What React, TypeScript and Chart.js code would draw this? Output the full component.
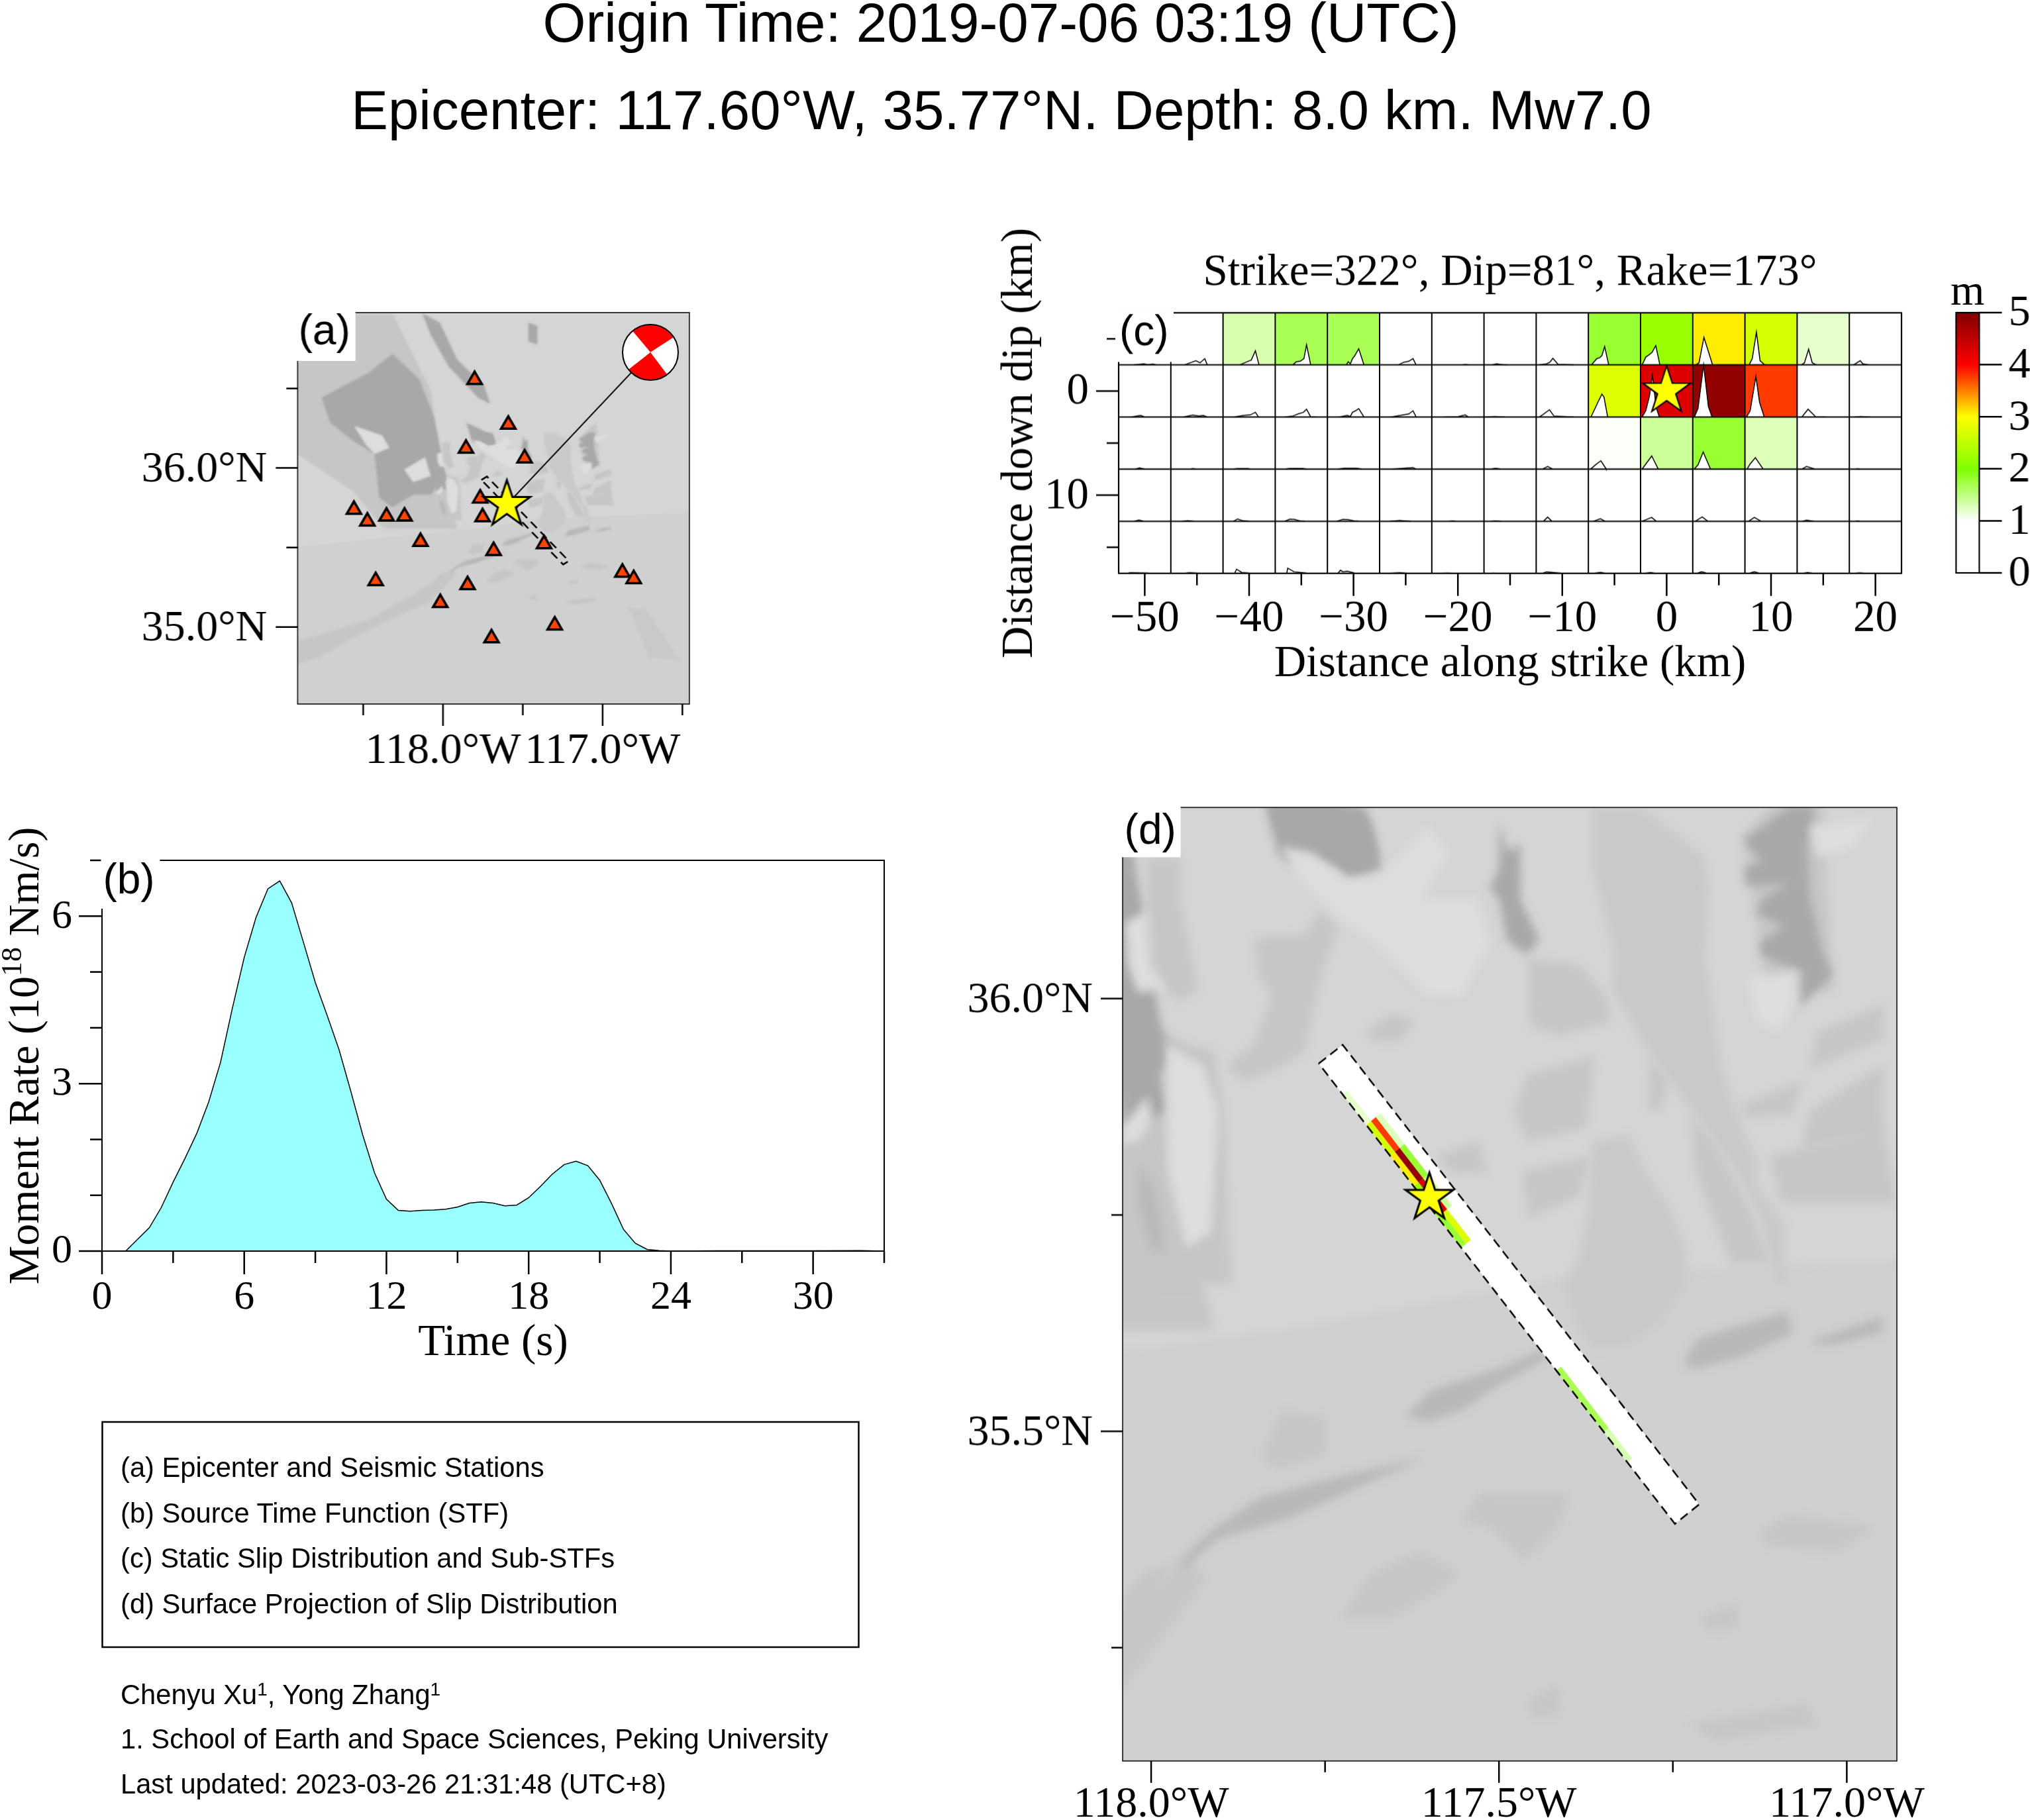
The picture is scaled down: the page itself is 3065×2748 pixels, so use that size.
import { useEffect, useRef } from "react";
import { Chart, registerables } from "chart.js";

Chart.register(...registerables);

const SERIF = '"Liberation Serif"';
const SANS = '"Liberation Sans"';

// ---------- data ----------
const titleLine1 = "Origin Time: 2019-07-06 03:19 (UTC)";
const titleLine2 = "Epicenter: 117.60°W, 35.77°N. Depth: 8.0 km. Mw7.0";
const faultTitle = "Strike=322°, Dip=81°, Rake=173°";
const legendLines = [
  "(a) Epicenter and Seismic Stations",
  "(b) Source Time Function (STF)",
  "(c) Static Slip Distribution and Sub-STFs",
  "(d) Surface Projection of Slip Distribution",
];

const epicenter: [number, number] = [-117.6, 35.77];
const beachballAt: [number, number] = [-116.7, 36.7275];
const beachballSlices = [97, 86, 89, 88];

const stations: [number, number][] = [
  [-117.802, 36.554], [-117.591, 36.273], [-117.856, 36.122], [-117.489, 36.061],
  [-117.767, 35.809], [-117.752, 35.691], [-118.558, 35.738], [-118.474, 35.664],
  [-118.354, 35.695], [-118.241, 35.695], [-118.141, 35.536], [-117.683, 35.479],
  [-117.367, 35.522], [-116.876, 35.343], [-116.805, 35.302], [-118.422, 35.29],
  [-117.846, 35.264], [-118.017, 35.152], [-117.3, 35.011], [-117.696, 34.93],
];

const faultNwShallow: [number, number] = [-117.7591, 35.925];
const faultNwDeep: [number, number] = [-117.7247, 35.9466];
const faultSeDeep: [number, number] = [-117.2122, 35.4156];
const faultSeShallow: [number, number] = [-117.247, 35.393];

const stfTime = [1, 1.5, 2, 2.5, 3, 3.5, 4, 4.5, 5, 5.5, 6, 6.5, 7, 7.5, 8, 8.5, 9, 9.5, 10, 10.5, 11, 11.5, 12, 12.5, 13, 13.5, 14, 14.5, 15, 15.5, 16, 16.5, 17, 17.5, 18, 18.5, 19, 19.5, 20, 20.5, 21, 21.5, 22, 22.5, 23, 23.5, 24, 26, 28, 30, 32, 33];
const stfRate = [0, 0.21, 0.42, 0.78, 1.235, 1.66, 2.11, 2.67, 3.38, 4.35, 5.26, 5.98, 6.49, 6.63, 6.24, 5.53, 4.81, 4.22, 3.61, 2.86, 2.08, 1.4, 0.93, 0.73, 0.715, 0.73, 0.735, 0.75, 0.79, 0.86, 0.88, 0.86, 0.81, 0.825, 0.955, 1.16, 1.38, 1.55, 1.61, 1.53, 1.27, 0.85, 0.39, 0.14, 0.03, 0.01, 0, 0.005, 0.005, 0.005, 0.01, 0];

const alongStrike = [-50, -45, -40, -35, -30, -25, -20, -15, -10, -5, 0, 5, 10, 15, 20];
const downDip = [-5, 0, 5, 10, 15];
const slipRow0 = [0.1, 0.5, 1.31, 1.67, 1.67, 0.6, 0, 0.1, 0.5, 1.8, 2.2, 3.07, 2.66, 1.2, 0.3];
const slipRow1 = [0.1, 0.2, 0.5, 0.7, 0.8, 0.6, 0.2, 0.05, 0.7, 2.73, 4.27, 4.85, 3.77, 0.7, 0.05];
const slipRow2 = [0.1, 0.05, 0.1, 0.1, 0.1, 0.2, 0, 0.1, 0.2, 1.03, 1.4, 1.8, 1.27, 0.2, 0.05];
const slipRow3 = [0.1, 0.05, 0.2, 0.2, 0.2, 0.1, 0.03, 0.03, 0.3, 0.2, 0.3, 0.4, 0.3, 0.1, 0.05];
const slipRow4 = [0.05, 0.05, 0.4, 0.4, 0.3, 0.05, 0.03, 0.03, 0.1, 0.1, 0.1, 0.1, 0.1, 0.05, 0.05];
const slipRows = [slipRow0, slipRow1, slipRow2, slipRow3, slipRow4];

const colorStops: [number, number, number, number][] = [
  [0, 255, 255, 255], [1, 255, 255, 255], [2, 128, 255, 0],
  [3, 255, 255, 0], [4, 255, 0, 0], [5, 128, 0, 0],
];

type W = [number, number][];
const stfRow0: W[] = [
  [[1.5, 0], [2.4, 0.1], [2.8, 0.03], [3.3, 0.08], [3.6, 0]],
  [[1.3, 0], [2.4, 0.4], [2.8, 0.2], [3.25, 0.6], [3.5, 0]],
  [[1.6, 0], [2.3, 0.3], [2.7, 0.45], [3.1, 1.35], [3.45, 0]],
  [[1.7, 0], [2, 0.3], [2.4, 0.35], [2.75, 0.6], [3, 1.93], [3.4, 0]],
  [[1.8, 0], [2, 0.3], [2.2, 0.1], [2.4, 0.6], [2.6, 0.85], [3, 1.55], [3.5, 0]],
  [[1.8, 0], [2.3, 0.25], [2.8, 0.35], [3.2, 0.6], [3.5, 0]],
  [[3, 0], [3.2, 0.03], [3.5, 0]],
  [[0.8, 0], [1.2, 0.1], [1.8, 0.03], [2.2, 0]],
  [[0.3, 0], [1, 0.1], [1.3, 0.25], [1.6, 0.63], [2.1, 0.05], [3.6, 0]],
  [[0.3, 0], [0.8, 0.6], [1.1, 0.7], [1.3, 0.9], [1.56, 1.76], [1.95, 0]],
  [[0.15, 0], [0.5, 0.75], [0.85, 1], [1.1, 1.2], [1.46, 1.84], [1.85, 0]],
  [[0.3, 0], [0.6, 0.2], [1.07, 2.64], [1.9, 0]],
  [[0.4, 0], [0.7, 0.6], [1.1, 3.15], [1.45, 0.4], [1.9, 0]],
  [[0.4, 0], [0.7, 0.2], [1.1, 1.5], [1.45, 0.2], [1.85, 0]],
  [[0.4, 0], [1.04, 0.4], [1.3, 0.1], [1.85, 0]],
];
const stfRow1: W[] = [
  [[1.2, 0], [2.1, 0.15], [2.5, 0]],
  [[1.2, 0], [2.1, 0.18], [2.7, 0.1], [3.1, 0.15], [3.5, 0]],
  [[1.05, 0], [2, 0.15], [2.6, 0.2], [3.1, 0.45], [3.4, 0]],
  [[0.9, 0], [1.7, 0.1], [2.2, 0.3], [2.7, 0.45], [3, 0.75], [3.4, 0], [3.9, 0]],
  [[1.1, 0], [1.9, 0.15], [2.2, 0.05], [2.4, 0.45], [2.7, 0.6], [3, 0.8], [3.5, 0]],
  [[1.05, 0], [2, 0.15], [2.8, 0.3], [3.2, 0.6], [3.5, 0]],
  [[1.2, 0], [2.5, 0.03], [3.2, 0.2], [3.5, 0]],
  [[0.1, 0], [1, 0.05], [2, 0]],
  [[0.3, 0], [0.6, 0.2], [1.27, 0.7], [1.7, 0.1], [3.6, 0]],
  [[0.25, 0], [1, 1.6], [1.3, 2.2], [1.5, 1.9], [1.85, 0]],
  [[0.15, 0], [0.5, 0.6], [0.85, 2], [1.14, 4], [1.5, 0.9], [1.8, 0]],
  [[0.15, 0], [0.5, 0.8], [1.04, 5], [1.5, 1], [1.85, 0]],
  [[0.15, 0], [0.5, 0.6], [1.05, 3.9], [1.4, 1.4], [1.85, 0]],
  [[0.45, 0], [1.05, 0.75], [1.8, 0], [2.8, 0]],
  [[0.5, 0], [1.1, 0.05], [2, 0]],
];
const stfRow2: W[] = [
  [[1.6, 0], [2, 0.12], [2.5, 0]],
  [[1.9, 0], [2.1, 0.05], [2.4, 0]],
  [[1, 0], [1.4, 0.05], [2.4, 0.05], [2.6, 0]],
  [[1, 0], [1.4, 0.07], [2.6, 0.07], [3, 0]],
  [[1, 0], [1.6, 0.08], [2.8, 0.08], [3.3, 0]],
  [[1.2, 0], [1.9, 0.05], [3.2, 0.15], [3.5, 0]],
  [],
  [[0.7, 0], [1.1, 0.08], [1.6, 0]],
  [[0.6, 0], [1.1, 0.25], [1.6, 0]],
  [[0.2, 0], [0.8, 0.5], [1.2, 0.8], [1.65, 0.1], [1.7, 0]],
  [[0.15, 0], [1.07, 1.26], [1.7, 0]],
  [[0.15, 0], [0.5, 0.4], [1, 1.64], [1.7, 0]],
  [[0.2, 0], [0.5, 0.5], [1, 1.1], [1.75, 0]],
  [[0.45, 0], [0.9, 0.25], [1.7, 0]],
  [[0.6, 0], [0.8, 0.04], [1, 0]],
];
const stfRow3: W[] = [
  [[1.5, 0], [1.95, 0.12], [2.4, 0]],
  [[1.1, 0], [1.6, 0.06], [2.2, 0]],
  [[1, 0], [1.4, 0.22], [1.9, 0.05], [2.5, 0]],
  [[0.9, 0], [1.4, 0.2], [1.8, 0.18], [2.4, 0.03], [2.8, 0]],
  [[0.9, 0], [1.5, 0.18], [2, 0.15], [2.6, 0.03], [3, 0]],
  [[1, 0], [1.9, 0.08], [3, 0]],
  [[1.7, 0], [2, 0.03], [2.3, 0]],
  [[0.7, 0], [1.1, 0.03], [1.6, 0]],
  [[0.7, 0], [1.1, 0.4], [1.5, 0]],
  [[0.5, 0], [1.15, 0.25], [1.6, 0]],
  [[0.15, 0], [1.07, 0.37], [1.5, 0]],
  [[0.25, 0], [0.9, 0.42], [1.45, 0]],
  [[0.35, 0], [0.9, 0.37], [1.55, 0]],
  [[0.5, 0], [0.9, 0.1], [1.6, 0]],
  [[0.6, 0], [0.8, 0.03], [1, 0]],
];
const stfRow4: W[] = [
  [[0.8, 0], [1.1, 0.06], [2.8, 0.03], [3, 0]],
  [[1.2, 0], [1.8, 0.06], [3, 0]],
  [[1.1, 0], [1.3, 0.4], [1.8, 0.08], [2.5, 0.03], [4.5, 0]],
  [[1.1, 0], [1.2, 0.5], [1.8, 0.15], [3, 0.03], [3.5, 0]],
  [[1, 0], [1.25, 0.3], [1.5, 0.15], [1.9, 0.2], [2.6, 0.03], [3, 0]],
  [[0.7, 0], [1.9, 0.06], [3, 0]],
  [[0.3, 0], [1.5, 0.03], [2.4, 0]],
  [[0.7, 0], [0.9, 0.03], [1.4, 0]],
  [[0.6, 0], [1, 0.15], [2.6, 0]],
  [[0.5, 0], [1.15, 0.1], [1.7, 0]],
  [[0.3, 0], [0.95, 0.08], [1.5, 0]],
  [[0.4, 0], [0.85, 0.15], [1.4, 0]],
  [[0.4, 0], [0.9, 0.15], [1.4, 0]],
  [[0.5, 0], [1, 0.08], [1.6, 0]],
  [[0.4, 0], [1, 0.05], [1.7, 0]],
];
const stfRows = [stfRow0, stfRow1, stfRow2, stfRow3, stfRow4];

// terrain outlines (lon, lat), read approximately from the shaded relief
const terrainUpland: W[] = [
  [[-118.95, 37], [-116.4, 37], [-116.4, 35.72], [-117.4, 35.68], [-117.8, 35.62], [-118.95, 35.5]],
];
const terrainBasin: W[] = [
  [[-117.366, 36.222], [-117.297, 36.222], [-117.206, 36.165], [-117.199, 36.134], [-117.203, 36.046], [-117.181, 35.923], [-117.152, 35.852], [-117.13, 35.817], [-117.13, 35.786], [-117.09, 35.74], [-117.09, 35.694], [-117.086, 35.671], [-117.1, 35.671], [-117.126, 35.751], [-117.159, 35.8], [-117.192, 35.838], [-117.239, 35.888], [-117.29, 35.944], [-117.337, 36.011], [-117.334, 36.053], [-117.352, 36.109], [-117.366, 36.151]],
  [[-117.366, 35.835], [-117.312, 35.842], [-117.29, 35.8], [-117.257, 35.761], [-117.232, 35.712], [-117.232, 35.67], [-117.264, 35.628], [-117.314, 35.598], [-117.364, 35.596], [-117.385, 35.618], [-117.407, 35.67], [-117.385, 35.7], [-117.37, 35.764]],
  [[-116.835, 35.125], [-116.724, 35.105], [-116.52, 34.791], [-116.705, 34.81]],
];
const terrainMid: W[] = [
  [[-118.911, 36.659], [-118.558, 36.973], [-118.317, 36.973], [-118.076, 36.482], [-118.002, 35.931], [-117.909, 35.617], [-118.372, 35.617], [-118.558, 35.852], [-118.911, 36.088]],
  [[-117.852, 36.07], [-117.779, 36.074], [-117.757, 36.102], [-117.732, 36.081], [-117.757, 36.025], [-117.779, 35.94], [-117.819, 35.919], [-117.867, 35.905], [-117.892, 35.923], [-117.852, 35.947], [-117.826, 36.004], [-117.845, 36.025]],
  [[-118.005, 36.162], [-117.958, 36.162], [-117.958, 36.109], [-117.932, 36.011], [-117.961, 35.997], [-117.994, 36.025], [-118.005, 36.081]],
  [[-117.994, 35.969], [-117.95, 35.947], [-117.91, 35.94], [-117.896, 35.87], [-117.885, 35.671], [-117.998, 35.671], [-117.979, 35.87]],
  [[-117.692, 35.961], [-117.655, 35.982], [-117.622, 35.975], [-117.641, 35.951], [-117.677, 35.951]],
  [[-117.59, 35.817], [-117.531, 35.835], [-117.517, 35.8], [-117.568, 35.8]],
  [[-117.458, 36.046], [-117.385, 36.039], [-117.348, 36.004], [-117.337, 35.975], [-117.41, 35.958], [-117.454, 35.968]],
  [[-117.458, 35.912], [-117.363, 35.933], [-117.374, 35.852], [-117.458, 35.835], [-117.479, 35.87]],
  [[-117.465, 35.8], [-117.37, 35.817], [-117.385, 35.772], [-117.458, 35.747]],
  [[-117.283, 35.93], [-117.257, 35.905], [-117.268, 35.87], [-117.286, 35.874]],
  [[-117.224, 35.863], [-117.192, 35.835], [-117.144, 35.764], [-117.111, 35.694], [-117.166, 35.694], [-117.217, 35.8]],
  [[-117.152, 35.877], [-117.064, 35.905], [-117.079, 35.867], [-117.144, 35.863]],
  [[-117.053, 35.87], [-116.948, 35.923], [-116.948, 35.842], [-117.064, 35.828]],
  [[-117.042, 35.961], [-116.948, 35.993], [-116.948, 35.954], [-117.053, 35.919]],
  [[-117.111, 35.817], [-116.948, 35.852], [-116.93, 35.764], [-117.093, 35.764]],
  [[-117.842, 35.473], [-117.813, 35.523], [-117.749, 35.516], [-117.749, 35.473], [-117.82, 35.456]],
  [[-117.556, 35.396], [-117.528, 35.428], [-117.399, 35.428], [-117.414, 35.389], [-117.464, 35.35], [-117.514, 35.389]],
  [[-117.727, 35.284], [-117.685, 35.336], [-117.613, 35.361], [-117.556, 35.336], [-117.578, 35.319], [-117.656, 35.284]],
  [[-117.214, 35.284], [-117.157, 35.301], [-117.157, 35.273], [-117.2, 35.27]],
  [[-117.128, 35.382], [-117.086, 35.403], [-116.957, 35.389], [-117.014, 35.361], [-117.114, 35.368]],
  [[-117.456, 35.192], [-117.414, 35.206], [-117.414, 35.171], [-117.456, 35.171]],
  [[-117.228, 35.161], [-117.057, 35.185], [-117.043, 35.161], [-117.186, 35.143]],
  [[-118.041, 35.308], [-118.013, 35.336], [-117.97, 35.347], [-118.027, 35.273], [-118.041, 35.27]],
  [[-118.911, 34.909], [-118.465, 35.046], [-118.187, 35.204], [-117.95, 35.35], [-117.92, 35.33], [-118.076, 35.164], [-118.465, 34.987], [-118.78, 34.81], [-118.911, 34.771]],
  [[-117.15, 36.187], [-117.039, 36.285], [-117.02, 36.01], [-117.113, 36.01]],
];
const terrainRidge: W[] = [
  [[-117.963, 35.347], [-117.913, 35.386], [-117.842, 35.424], [-117.742, 35.445], [-117.606, 35.47], [-117.685, 35.442], [-117.799, 35.4], [-117.906, 35.375], [-117.949, 35.343]],
  [[-117.635, 35.516], [-117.599, 35.547], [-117.492, 35.575], [-117.435, 35.596], [-117.428, 35.586], [-117.513, 35.547], [-117.549, 35.526], [-117.599, 35.512]],
  [[-117.235, 35.579], [-117.214, 35.607], [-117.086, 35.639], [-117.078, 35.614], [-117.15, 35.586], [-117.221, 35.572]],
  [[-117.057, 35.603], [-116.95, 35.632], [-116.95, 35.614], [-117.021, 35.6]],
  [[-118.016, 35.81], [-117.994, 35.775], [-117.983, 35.73], [-117.983, 35.705], [-118.001, 35.715], [-118.016, 35.758]],
];
const terrainDark: W[] = [
  [[-118.761, 36.442], [-118.613, 36.521], [-118.465, 36.6], [-118.317, 36.718], [-118.15, 36.56], [-118.057, 36.324], [-117.983, 35.95], [-118.076, 35.833], [-118.187, 35.833], [-118.317, 35.754], [-118.4, 35.813], [-118.428, 36.088], [-118.558, 36.167], [-118.706, 36.285]],
  [[-118.131, 36.973], [-118.02, 36.914], [-117.909, 36.678], [-117.743, 36.521], [-117.705, 36.403], [-117.78, 36.442], [-117.965, 36.639], [-118.076, 36.836]],
  [[-117.854, 36.285], [-117.687, 36.206], [-117.668, 36.147], [-117.817, 36.167]],
  [[-117.826, 36.222], [-117.692, 36.222], [-117.674, 36.169], [-117.688, 36.144], [-117.717, 36.139], [-117.739, 36.155], [-117.775, 36.171], [-117.801, 36.155], [-117.812, 36.169], [-117.805, 36.183], [-117.823, 36.2]],
  [[-117.5, 36.204], [-117.488, 36.169], [-117.47, 36.179], [-117.469, 36.114], [-117.442, 36.068], [-117.46, 36.051], [-117.488, 36.067], [-117.5, 36.116], [-117.513, 36.127], [-117.5, 36.151]],
  [[-117.148, 36.183], [-117.082, 36.222], [-117.046, 36.222], [-117.057, 36.176], [-117.053, 36.116], [-117.035, 36.053], [-117.02, 36.028], [-117.068, 35.99], [-117.064, 36.032], [-117.122, 36.049], [-117.126, 36.063], [-117.09, 36.084], [-117.13, 36.099], [-117.119, 36.116], [-117.082, 36.134], [-117.144, 36.13], [-117.148, 36.151], [-117.122, 36.158]],
  [[-118.041, 36.123], [-118.023, 36.113], [-118.016, 36.035], [-117.998, 35.975], [-117.969, 35.93], [-117.987, 35.912], [-117.976, 35.87], [-118.005, 35.859], [-118.041, 35.852]],
  [[-117.465, 36.914], [-117.409, 36.894], [-117.409, 36.776], [-117.465, 36.796]],
];
const terrainLight: W[] = [
  [[-117.816, 36.176], [-117.768, 36.169], [-117.721, 36.137], [-117.674, 36.141], [-117.604, 36.2], [-117.571, 36.169], [-117.612, 36.116], [-117.531, 36.116], [-117.513, 36.063], [-117.553, 36.004], [-117.604, 36.004], [-117.677, 36.063], [-117.721, 36.088], [-117.779, 36.13]],
  [[-118.041, 35.852], [-118.005, 35.888], [-117.998, 35.859], [-118.019, 35.835], [-118.041, 35.831]],
  [[-118.038, 36.088], [-118.005, 36.102], [-117.998, 36.039], [-117.979, 36.011], [-118.019, 36.007], [-118.034, 36.039]],
  [[-117.979, 35.947], [-117.925, 35.923], [-117.903, 35.87], [-117.914, 35.729], [-117.95, 35.712], [-117.976, 35.8]],
  [[-117.144, 36.025], [-117.071, 36.032], [-117.075, 35.997], [-117.097, 35.961], [-117.13, 35.975], [-117.137, 36.004]],
  [[-117.053, 36.2], [-116.962, 36.208], [-116.991, 36.176], [-117.042, 36.162]],
  [[-118.558, 36.265], [-118.382, 36.206], [-118.335, 36.128], [-118.428, 36.088], [-118.484, 36.147]],
  [[-118.243, 35.99], [-118.113, 36.069], [-118.076, 35.95], [-118.187, 35.911]],
];

const aLatMajor = [36, 35];
const aLatMinor = [36.5, 35.5];
const aLonMajor = [-118, -117];
const aLonMinor = [-118.5, -117.5, -116.5];
const bTimeMajor = [0, 6, 12, 18, 24, 30];
const bTimeMinor = [3, 9, 15, 21, 27, 33];
const bRateMajor = [0, 3, 6];
const bRateMinor = [1, 2, 4, 5, 7];
const cStrikeMajor = [-50, -40, -30, -20, -10, 0, 10, 20];
const cStrikeMinor = [-45, -35, -25, -15, -5, 5, 15];
const cDipMajor = [0, 10];
const cDipMinor = [-5, 5, 15];
const cEdgesX = [-47.5, -42.5, -37.5, -32.5, -27.5, -22.5, -17.5, -12.5, -7.5, -2.5, 2.5, 7.5, 12.5, 17.5];
const cEdgesY = [-2.5, 2.5, 7.5, 12.5];
const barTicks = [0, 1, 2, 3, 4, 5];
const dLatMajor = [36, 35.5];
const dLatMinor = [35.75, 35.25];
const dLonMajor = [-118, -117.5, -117];
const dLonMinor = [-117.75, -117.25];

// ---------- helpers ----------
function slipColor(v: number) {
  for (let i = 1; i < colorStops.length; i++) {
    if (v <= colorStops[i][0]) {
      const a = colorStops[i - 1], b = colorStops[i];
      const t = (v - a[0]) / (b[0] - a[0]);
      return `rgb(${[1, 2, 3].map((k) => Math.round(a[k] + (b[k] - a[k]) * t)).join(",")})`;
    }
  }
  return "rgb(128,0,0)";
}

function starImage(r: number, lw: number) {
  const c = document.createElement("canvas");
  const s = Math.ceil(r * 2 + lw * 6);
  c.width = s; c.height = s;
  const g = c.getContext("2d")!;
  g.translate(s / 2, s / 2);
  g.beginPath();
  for (let i = 0; i < 10; i++) {
    const rad = i % 2 ? r * 0.382 : r;
    const a = (i * Math.PI) / 5 - Math.PI / 2;
    g.lineTo(Math.cos(a) * rad, Math.sin(a) * rad);
  }
  g.closePath();
  g.fillStyle = "#ffff00";
  g.fill();
  g.lineWidth = lw;
  g.strokeStyle = "#000";
  g.lineJoin = "miter";
  g.stroke();
  return c;
}

const poly = (pts: W, color: string, extra: any = {}) => ({
  type: "line",
  data: pts.map(([x, y]) => ({ x, y })),
  fill: "shape",
  backgroundColor: color,
  borderColor: "rgba(0,0,0,0)",
  borderWidth: 0,
  pointRadius: 0,
  tension: 0,
  ...extra,
});

const stacked = (ds: any[]) => ds.map((d, i) => ({ ...d, order: ds.length - i }));

const starSet = (at: [number, number], r: number, lw: number) => ({
  type: "line",
  data: [{ x: at[0], y: at[1] }],
  showLine: false,
  pointStyle: starImage(r, lw),
  pointRadius: r,
  clip: false,
});

function terrainSets() {
  const sets = [
    ...terrainUpland.map((p) => poly(p, "#d5d5d5")),
    ...terrainBasin.map((p) => poly(p, "#c9c9c9")),
    ...terrainMid.map((p) => poly(p, "#c6c6c6")),
    ...terrainRidge.map((p) => poly(p, "#b8b8b8")),
    ...terrainDark.map((p) => poly(p, "#a8a8a8")),
    ...terrainLight.map((p) => poly(p, "#dddddd")),
  ];
  (sets[sets.length - 1] as any).terrainLast = true;
  return sets;
}

type Frame = {
  area?: string; blur?: number;
  xMajor?: number[]; xMinor?: number[]; yMajor?: number[]; yMinor?: number[];
  major: number; minor: number; frameWidth: number; tickWidth: number;
  side?: "left" | "right";
  gridX?: number[]; gridY?: number[]; gridWidth?: number;
  tag?: { text: string; x: number; y: number; box: [number, number, number, number]; size: number };
};

function framePlugin(f: Frame) {
  return {
    id: "panelFrame",
    beforeDatasetsDraw(chart: any) {
      if (!f.area) return;
      const a = chart.chartArea;
      chart.ctx.save();
      chart.ctx.fillStyle = f.area;
      chart.ctx.fillRect(a.left, a.top, a.right - a.left, a.bottom - a.top);
      chart.ctx.restore();
      if (f.blur) chart.ctx.filter = `blur(${f.blur}px)`;
    },
    afterDatasetDraw(chart: any, args: any) {
      if (chart.data.datasets[args.index].terrainLast) chart.ctx.filter = "none";
    },
    afterDatasetsDraw(chart: any) {
      const { ctx, chartArea: a, scales } = chart;
      const x = scales.x, y = scales.y;
      ctx.save();
      ctx.strokeStyle = "#000";
      const seg = (x0: number, y0: number, x1: number, y1: number, w: number) => {
        ctx.lineWidth = w;
        ctx.beginPath(); ctx.moveTo(x0, y0); ctx.lineTo(x1, y1); ctx.stroke();
      };
      (f.gridX || []).forEach((v) => { const p = x.getPixelForValue(v); seg(p, a.top, p, a.bottom, f.gridWidth || 2); });
      (f.gridY || []).forEach((v) => { const p = y.getPixelForValue(v); seg(a.left, p, a.right, p, f.gridWidth || 2); });
      ctx.lineWidth = f.frameWidth;
      ctx.strokeRect(a.left, a.top, a.right - a.left, a.bottom - a.top);
      const drawY = (v: number, len: number) => {
        const p = y.getPixelForValue(v);
        if (f.side === "right") seg(a.right, p, a.right + len, p, f.tickWidth);
        else seg(a.left - len, p, a.left, p, f.tickWidth);
      };
      const drawX = (v: number, len: number) => {
        const p = x.getPixelForValue(v);
        seg(p, a.bottom, p, a.bottom + len, f.tickWidth);
      };
      (f.xMajor || []).forEach((v) => drawX(v, f.major));
      (f.xMinor || []).forEach((v) => drawX(v, f.minor));
      (f.yMajor || []).forEach((v) => drawY(v, f.major));
      (f.yMinor || []).forEach((v) => drawY(v, f.minor));
      if (f.tag) {
        const [bx, by, bw, bh] = f.tag.box;
        const cv = chart.canvas as HTMLCanvasElement;
        const ox = parseFloat(cv.style.left), oy = parseFloat(cv.style.top);
        ctx.fillStyle = "#fff";
        ctx.fillRect(bx - ox, by - oy, bw, bh);
        ctx.fillStyle = "#000";
        ctx.font = `${f.tag.size}px ${SANS}`;
        ctx.textAlign = "left";
        ctx.textBaseline = "alphabetic";
        ctx.fillText(f.tag.text, f.tag.x - ox, f.tag.y - oy);
      }
      ctx.restore();
    },
  };
}

function axis(o: {
  min: number; max: number; ticks: number[]; label: (v: number) => string;
  font: number; pad: number; fixed: number; horizontal: boolean; title?: string; reverse?: boolean; position?: string; nudge?: number;
}) {
  return {
    type: "linear",
    position: o.position || (o.horizontal ? "bottom" : "left"),
    min: o.min, max: o.max, reverse: !!o.reverse, offset: false,
    grid: { display: false, drawTicks: false, offset: false },
    border: { display: false },
    afterBuildTicks: (s: any) => { s.ticks = o.ticks.map((value) => ({ value })); },
    afterFit: (s: any) => { if (o.horizontal) s.height = o.fixed; else s.width = o.fixed; },
    ticks: {
      autoSkip: false, maxRotation: 0, minRotation: 0, color: "#000", padding: o.pad, labelOffset: o.nudge || 0,
      font: { family: SERIF, size: o.font, lineHeight: 1 },
      callback: (v: number) => o.label(v),
    },
    title: o.title
      ? { display: true, text: o.title, color: "#000", padding: 0, font: { family: SERIF, size: 67, lineHeight: 1 } }
      : { display: false },
  };
}

const PAD = 150;
const padAll = { left: PAD, right: PAD, top: PAD, bottom: PAD };
const geom = (L: number, T: number, R: number, B: number, wLeft: number, hBottom: number, topExtra = 0) => ({
  left: L - wLeft - PAD,
  top: T - PAD - topExtra,
  width: R - L + wLeft + 2 * PAD,
  height: B - T + hBottom + 2 * PAD + topExtra,
  padding: padAll,
});

const lonLabel = (majors: number[]) => (v: number) => majors.includes(v) ? `${Math.abs(v).toFixed(1)}°W` : "";
const latLabel = (majors: number[]) => (v: number) => majors.includes(v) ? `${v.toFixed(1)}°N` : "";
const baseOptions = (padding: any, scales: any, title?: any) => ({
  responsive: false,
  animation: false,
  devicePixelRatio: 1,
  layout: { padding },
  plugins: { legend: { display: false }, tooltip: { enabled: false }, title: title || { display: false } },
  scales,
});

// ---------- charts ----------
function makeA(cv: HTMLCanvasElement, g: any) {
  const rect = [faultNwShallow, faultNwDeep, faultSeDeep, faultSeShallow, faultNwShallow];
  return new Chart(cv, {
    type: "line",
    data: {
      datasets: stacked([
        ...terrainSets(),
        { type: "line", data: rect.map(([x, y]) => ({ x, y })), borderColor: "#000", borderWidth: 2.5, borderDash: [13, 8], pointRadius: 0, fill: false },
        { type: "line", data: stations.map(([x, y]) => ({ x, y })), showLine: false, pointStyle: "triangle", pointRadius: 12.5, pointBackgroundColor: "#ff4500", pointBorderColor: "#000", pointBorderWidth: 3.5 },
        { type: "line", data: [epicenter, beachballAt].map(([x, y]) => ({ x, y })), borderColor: "#000", borderWidth: 2, pointRadius: 0, fill: false },
        starSet(epicenter, 37, 3),
      ]) as any,
    },
    options: baseOptions(g.padding, {
      x: axis({ min: -118.911, max: -116.456, ticks: [...aLonMajor, ...aLonMinor].sort((p, q) => p - q), label: lonLabel(aLonMajor), font: 66, pad: 39, fixed: 130, horizontal: true }),
      y: axis({ min: 34.516, max: 36.977, ticks: [...aLatMajor, ...aLatMinor].sort((p, q) => p - q), label: latLabel(aLatMajor), font: 66, pad: 46, fixed: 250, horizontal: false, nudge: 3 }),
    }) as any,
    plugins: [framePlugin({
      area: "#d0d0d0", blur: 1.5, xMajor: aLonMajor, xMinor: aLonMinor, yMajor: aLatMajor, yMinor: aLatMinor,
      major: 33, minor: 17, frameWidth: 1.5, tickWidth: 2.5,
      tag: { text: "(a)", x: 450, y: 520, box: [447, 460, 89, 85], size: 64 },
    })] as any,
  });
}

function makeBall(cv: HTMLCanvasElement) {
  return new Chart(cv, {
    type: "doughnut",
    data: { labels: ["P", "T", "P ", "T "], datasets: [{ data: beachballSlices, backgroundColor: ["#ff0000", "#ffffff", "#ff0000", "#ffffff"], borderWidth: 0 }] },
    options: {
      responsive: false, animation: false, devicePixelRatio: 1, cutout: 0, rotation: 320, radius: 42,
      plugins: { legend: { display: false }, tooltip: { enabled: false } },
    } as any,
    plugins: [{
      id: "ballRim",
      afterDatasetsDraw(chart: any) {
        const { ctx, width, height } = chart;
        ctx.save();
        ctx.strokeStyle = "#000"; ctx.lineWidth = 2;
        ctx.beginPath(); ctx.arc(width / 2, height / 2, 42, 0, Math.PI * 2); ctx.stroke();
        ctx.restore();
      },
    }] as any,
  });
}

function makeB(cv: HTMLCanvasElement, g: any) {
  return new Chart(cv, {
    type: "line",
    data: {
      datasets: [{
        data: stfTime.map((x, i) => ({ x, y: stfRate[i] })),
        borderColor: "#000", borderWidth: 1.5, pointRadius: 0, fill: "origin", backgroundColor: "#99ffff", tension: 0,
      }],
    },
    options: baseOptions(g.padding, {
      x: axis({ min: 0, max: 33, ticks: [...bTimeMajor, ...bTimeMinor].sort((p, q) => p - q), label: (v) => (bTimeMajor.includes(v) ? String(v) : ""), font: 62, pad: 40, fixed: 173, horizontal: true, title: "Time (s)" }),
      y: axis({ min: 0, max: 7, ticks: [...bRateMajor, ...bRateMinor].sort((p, q) => p - q), label: (v) => (bRateMajor.includes(v) ? String(v) : ""), font: 62, pad: 45, fixed: 130, horizontal: false, nudge: 1 }),
    }) as any,
    plugins: [framePlugin({
      xMajor: bTimeMajor, xMinor: bTimeMinor, yMajor: bRateMajor, yMinor: bRateMinor,
      major: 35, minor: 18, frameWidth: 2, tickWidth: 2.5,
      tag: { text: "(b)", x: 155, y: 1349, box: [152, 1296, 89, 76], size: 64 },
    })] as any,
  });
}

function makeC(cv: HTMLCanvasElement, g: any) {
  const cells = slipRows.map((row, r) => ({
    type: "bar",
    data: row.map((_, c) => ({ x: alongStrike[c], y: [downDip[r] - 2.5, downDip[r] + 2.5] })),
    backgroundColor: row.map((v) => slipColor(v)),
    borderWidth: 0, barPercentage: 1, categoryPercentage: 1, grouped: false,
  }));
  const waves: any[] = [];
  stfRows.forEach((row, r) => row.forEach((w, c) => {
    if (!w.length) return;
    const pts: W = w.map(([dx, h]) => [alongStrike[c] - 2.5 + dx, downDip[r] + 2.5 - h]);
    waves.push(poly(pts, "#ffffff", { borderColor: "#000", borderWidth: 1.5 }));
  }));
  return new Chart(cv, {
    type: "bar",
    data: { datasets: stacked([...cells, ...waves, starSet([0, 0], 38, 2.2)]) as any },
    options: baseOptions(g.padding, {
      x: axis({ min: -52.5, max: 22.5, ticks: alongStrike, label: (v) => (cStrikeMajor.includes(v) ? String(v).replace("-", "\u2212") : ""), font: 67, pad: 36, fixed: 171, horizontal: true, title: "Distance along strike (km)" }),
      y: axis({ min: -7.5, max: 17.5, reverse: true, ticks: downDip, label: (v) => (cDipMajor.includes(v) ? String(v) : ""), font: 67, pad: 45, fixed: 182, horizontal: false, title: "Distance down dip (km)", nudge: 2 }),
    }, { display: true, text: faultTitle, color: "#000", fullSize: false, padding: { top: 0, bottom: 26 }, font: { family: SERIF, size: 67, lineHeight: 1, weight: "normal" } }) as any,
    plugins: [framePlugin({
      xMajor: cStrikeMajor, xMinor: cStrikeMinor, yMajor: cDipMajor, yMinor: cDipMinor,
      major: 34, minor: 18, frameWidth: 2.2, tickWidth: 2.5, gridX: cEdgesX, gridY: cEdgesY, gridWidth: 2,
      tag: { text: "(c)", x: 1690, y: 521, box: [1684, 470, 88, 76], size: 64 },
    })] as any,
  });
}

function makeBar(cv: HTMLCanvasElement, g: any) {
  return new Chart(cv, {
    type: "bar",
    data: {
      labels: ["slip"],
      datasets: [{
        data: [[0, 5]],
        barPercentage: 1, categoryPercentage: 1, borderWidth: 0,
        backgroundColor: (c: any) => {
          const a = c.chart.chartArea;
          if (!a) return "#fff";
          const grad = c.chart.ctx.createLinearGradient(0, a.bottom, 0, a.top);
          colorStops.forEach(([v, r, gg, b]) => grad.addColorStop(v / 5, `rgb(${r},${gg},${b})`));
          return grad;
        },
      }],
    },
    options: baseOptions(g.padding, {
      x: { display: false, offset: true },
      y: axis({ min: 0, max: 5, ticks: barTicks, label: (v) => String(v), font: 66, pad: 44, fixed: 120, horizontal: false, position: "right", nudge: 2 }),
    }) as any,
    plugins: [framePlugin({ yMajor: barTicks, major: 34, minor: 18, frameWidth: 2.2, tickWidth: 2.5, side: "right" })] as any,
  });
}

function makeD(cv: HTMLCanvasElement, g: any) {
  const cellPoly = (r: number, c: number): W => {
    const corner = (u: number, v: number): [number, number] => [
      faultSeShallow[0] + u * (faultNwShallow[0] - faultSeShallow[0]) + v * (faultSeDeep[0] - faultSeShallow[0]),
      faultSeShallow[1] + u * (faultNwShallow[1] - faultSeShallow[1]) + v * (faultSeDeep[1] - faultSeShallow[1]),
    ];
    const u0 = (alongStrike[c] - 2.5 + 52.5) / 75, u1 = (alongStrike[c] + 2.5 + 52.5) / 75;
    const v0 = (downDip[r] - 2.5 + 7.5) / 25, v1 = (downDip[r] + 2.5 + 7.5) / 25;
    return [corner(u0, v0), corner(u1, v0), corner(u1, v1), corner(u0, v1)];
  };
  const cells: any[] = [];
  slipRows.forEach((row, r) => row.forEach((v, c) => {
    if (v > 1) cells.push(poly(cellPoly(r, c), slipColor(v)));
  }));
  const rect = [faultNwShallow, faultNwDeep, faultSeDeep, faultSeShallow];
  return new Chart(cv, {
    type: "line",
    data: {
      datasets: stacked([
        ...terrainSets(),
        poly(rect, "#ffffff"),
        ...cells,
        { type: "line", data: [...rect, faultNwShallow].map(([x, y]) => ({ x, y })), borderColor: "#000", borderWidth: 2.5, borderDash: [14, 8], pointRadius: 0, fill: false },
        starSet(epicenter, 38, 3),
      ]) as any,
    },
    options: baseOptions(g.padding, {
      x: axis({ min: -118.041, max: -116.928, ticks: [...dLonMajor, ...dLonMinor].sort((p, q) => p - q), label: lonLabel(dLonMajor), font: 66, pad: 34, fixed: 130, horizontal: true }),
      y: axis({ min: 35.119, max: 36.221, ticks: [...dLatMajor, ...dLatMinor].sort((p, q) => p - q), label: latLabel(dLatMajor), font: 66, pad: 45, fixed: 250, horizontal: false, nudge: 3 }),
    }) as any,
    plugins: [framePlugin({
      area: "#d0d0d0", blur: 7, xMajor: dLonMajor, xMinor: dLonMinor, yMajor: dLatMajor, yMinor: dLatMinor,
      major: 33, minor: 17, frameWidth: 1.5, tickWidth: 2.5,
      tag: { text: "(d)", x: 1698, y: 1274, box: [1694, 1217, 89, 77], size: 64 },
    })] as any,
  });
}

function Panel({ g, make }: { g: any; make: (c: HTMLCanvasElement, g: any) => Chart }) {
  const ref = useRef<HTMLCanvasElement>(null);
  useEffect(() => {
    const chart = make(ref.current!, g);
    return () => chart.destroy();
  }, []);
  return (
    <canvas
      ref={ref}
      width={g.width}
      height={g.height}
      style={{ position: "absolute", left: g.left, top: g.top, width: g.width, height: g.height, display: "block" }}
    />
  );
}

const geoA = geom(448.7, 472, 1040.6, 1063, 250, 130);
const geoB = geom(153.6, 1299, 1334.8, 1889, 130, 173);
const geoC = geom(1689, 471.8, 2871, 865.7, 182, 171, 93);
const geoBar = (() => {
  const L = 2952.9, R = 2988.6, T = 472.4, B = 865.4;
  return { left: L - PAD, top: T - PAD, width: R - L + 120 + 2 * PAD, height: B - T + 2 * PAD, padding: padAll };
})();
const geoD = geom(1695.4, 1218.8, 2864.5, 2658.6, 250, 130);
const geoBall = { left: 981.7 - 50, top: 532 - 50, width: 100, height: 100 };

export default function App() {
  useEffect(() => {
    document.body.style.margin = "0";
    document.body.style.background = "#fff";
  }, []);
  return (
    <div style={{ position: "absolute", left: 0, top: 0, width: 3065, height: 2748, overflow: "hidden", background: "#fff" }}>
      <Panel g={geoB} make={makeB} />
      <Panel g={geoD} make={makeD} />
      <Panel g={geoA} make={makeA} />
      <Panel g={geoBall} make={makeBall} />
      <Panel g={geoC} make={makeC} />
      <Panel g={geoBar} make={makeBar} />
      <svg width={3065} height={2748} style={{ position: "absolute", left: 0, top: 0, pointerEvents: "none" }}>
        <g fontFamily={SANS} fontSize={83.5} textAnchor="middle" fill="#000">
          <text x={1511} y={63}>{titleLine1}</text>
          <text x={1512} y={195}>{titleLine2}</text>
        </g>
        <text x={2970.7} y={460} textAnchor="middle" fontFamily={SERIF} fontSize={66} fill="#000">m</text>
        <text transform="translate(58,1594) rotate(-90)" textAnchor="middle" fontFamily={SERIF} fontSize={66} fill="#000">
          Moment Rate (10<tspan dy={-26} fontSize={44}>18</tspan><tspan dy={26}> Nm/s)</tspan>
        </text>
        <rect x={154.5} y={2147} width={1142} height={340} fill="none" stroke="#000" strokeWidth={2.5} />
        <g fontFamily={SANS} fontSize={41.7} fill="#000">
          <text x={182} y={2230}>{legendLines[0]}</text>
          <text x={182} y={2299}>{legendLines[1]}</text>
          <text x={182} y={2367}>{legendLines[2]}</text>
          <text x={182} y={2436}>{legendLines[3]}</text>
          <text x={182} y={2573}>Chenyu Xu<tspan dy={-13} fontSize={28}>1</tspan><tspan dy={13}>, Yong Zhang</tspan><tspan dy={-13} fontSize={28}>1</tspan></text>
          <text x={182} y={2640}>1. School of Earth and Space Sciences, Peking University</text>
          <text x={182} y={2708}>Last updated: 2023-03-26 21:31:48 (UTC+8)</text>
        </g>
      </svg>
    </div>
  );
}
